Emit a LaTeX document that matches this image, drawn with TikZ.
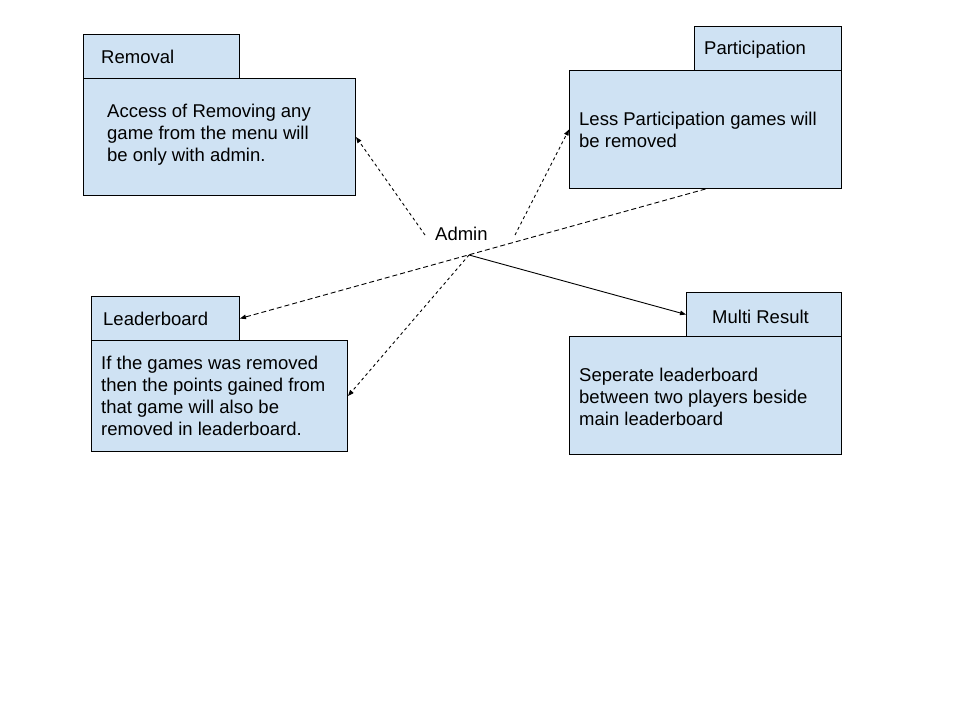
\documentclass[tikz,border=0pt]{standalone}
\usepackage{fontspec}
\setmainfont{Liberation Sans}
\usetikzlibrary{arrows.meta}
\definecolor{boxfill}{HTML}{CFE2F3}
\tikzset{
  box/.style={draw=black, fill=boxfill, line width=1pt, anchor=north west, inner sep=0pt},
  txt/.style={anchor=north west, inner sep=0pt, align=left, font=\fontsize{18.5}{22}\selectfont},
  conn/.style={line width=0.9pt, -{Triangle[length=6pt,width=4.5pt]}},
  dsh/.style={conn, dash pattern=on 3pt off 3pt},
}
\begin{document}
\begin{tikzpicture}[x=1pt,y=-1pt]
\useasboundingbox (0,0) rectangle (960,720);
% Removal
\node[box, minimum width=156, minimum height=44] (rtab) at (83,34) {};
\node[box, minimum width=272, minimum height=117] (rbody) at (83,78) {};
\node[txt] (rtitle) at (101,50) {Removal};
\node[txt] (rtext) at (107,104) {Access of Removing any\\game from the menu will\\be only with admin.};
% Participation
\node[box, minimum width=147, minimum height=44] (ptab) at (694,26) {};
\node[box, minimum width=272, minimum height=118] (pbody) at (569,70) {};
\node[txt] (ptitle) at (704,41) {Participation};
\node[txt] (ptext) at (579,112) {Less Participation games will\\be removed};
% Leaderboard
\node[box, minimum width=148, minimum height=44] (ltab) at (91,296) {};
\node[box, minimum width=256, minimum height=111] (lbody) at (91,340) {};
\node[txt] (ltitle) at (103,312) {Leaderboard};
\node[txt] (ltext) at (101,356) {If the games was removed\\then the points gained from\\that game will also be\\removed in leaderboard.};
% Multi Result
\node[box, minimum width=155, minimum height=44] (mtab) at (686,292) {};
\node[box, minimum width=272, minimum height=118] (mbody) at (569,336) {};
\node[txt] (mtitle) at (712,310) {Multi Result};
\node[txt] (mtext) at (579,368) {Seperate leaderboard\\between two players beside\\main leaderboard};
% Admin
\node[txt] (admin) at (435,227) {Admin};
\coordinate (aw) at (425,235);
\coordinate (ae) at (515,235);
\coordinate (hub) at (469,255);
% connectors
\draw[dsh] (aw) -- (rbody.east);
\draw[dsh] (ae) -- (pbody.west);
\draw[conn, dash pattern=on 5pt off 3pt] (pbody.south) -- (ltab.east);
\draw[dsh] (hub) -- (lbody.east);
\draw[conn] (hub) -- (mtab.west);
\end{tikzpicture}
\end{document}
